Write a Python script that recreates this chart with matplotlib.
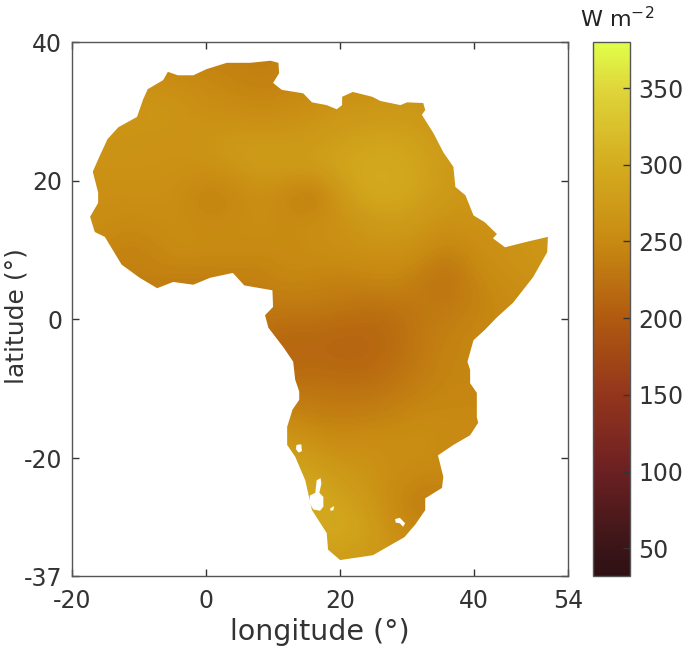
import matplotlib
matplotlib.use('Agg')
import matplotlib.pyplot as plt
from matplotlib.colors import LinearSegmentedColormap
from matplotlib.patches import Polygon
import numpy as np

# coastline
coast_lon = [-5.7, -4.2, -1.9, 0.1, 3.1, 6.6, 9.6, 10.8, 10.9, 10, 11.3, 14.5, 15.8, 18, 19.5, 20.3, 20.3, 21.9,
             24.8, 26, 29, 30, 32.4, 32.7, 32.2, 33.9, 35.4, 36.9, 37.2, 38.7, 39.9, 41.6, 43.4, 42.8, 44.6, 47.9,
             51, 50.9, 48.8, 45.8, 43.4, 41.6, 39.9, 39, 39.4, 39.4, 40.4, 40.4, 40.6, 39.4, 36.9, 34.6, 35.4, 35.2,
             32.7, 32.7, 31.2, 29.6, 26.7, 24.9, 20, 18.2, 18.0, 17.4, 15.8, 14.8, 13.3, 12.1, 12.1, 12.9, 13.9, 13.9,
             13.3, 13.0, 11.6, 9.3, 8.8, 10, 9.9, 5.7, 4, 0.6, -1.9, -4.9, -7.3, -9.9, -12.6, -15.1, -16.6, -17.3,
             -16.1, -16.1, -16.9, -15.9, -14.7, -13.1, -10.3, -9.4, -8.7, -6.4]
coast_lat = [35.7, 35.2, 35.2, 36.1, 37, 37, 37.3, 37, 35.5, 34.1, 33.1, 32.6, 31.3, 30.9, 30.3, 30.9, 32.1, 32.8,
             32.1, 31.5, 30.9, 31.3, 31.2, 30.2, 29.5, 26.9, 24.1, 22, 19.1, 17.9, 15, 14, 12.3, 11.7, 10.4, 11.2,
             11.9, 9.7, 6.1, 2.4, 0.3, -1.5, -3, -6.1, -7.3, -9.2, -10.6, -14.1, -14.9, -16.7, -18.1, -19.6, -22.7, -24.3,
             -25.8, -27.5, -29.6, -31.4, -33.0, -34, -34.7, -33.2, -30.8, -29.9, -27.5, -23.2, -19.8, -18.1, -15.5, -13.0, -11.6, -10.4,
             -8.7, -6.1, -4.1, -1.2, 0.6, 1.8, 4.2, 4.9, 6.7, 6, 5, 5.4, 4.5, 6, 7.9, 11.9, 12.6, 14.8,
             16.8, 18.3, 21.3, 23.5, 26.0, 27.7, 29.2, 31.7, 33.2, 34.5]

# white no-data patches in the south
gap1_lon = [16.5, 17.1, 17.2, 16.9, 17.5, 17.5, 17.0, 16.0, 15.4, 15.5, 16.3]
gap1_lat = [-23.2, -22.9, -23.7, -25.0, -25.6, -27.0, -27.6, -27.4, -26.4, -25.4, -25.0]
gap2_lon = [13.5, 14.2, 14.3, 13.8, 13.4]
gap2_lat = [-18.1, -18.0, -19.0, -19.2, -18.7]
gap3_lon = [28.2, 28.9, 29.7, 29.4, 28.9, 28.3]
gap3_lat = [-28.8, -28.6, -29.4, -29.9, -29.4, -29.3]
gap4_lon = [18.5, 19.1, 19.0, 18.6]
gap4_lat = [-27.3, -26.9, -27.5, -27.6]

# surface values on a coarse grid, W m-2
grid_lon = np.arange(-20, 53, 4)
grid_lat = np.arange(38, -39, -4)
values = [
    [240, 240, 240, 240, 240, 240, 238, 238, 240, 245, 245, 245, 245, 250, 250, 250, 250, 250, 250],
    [255, 255, 255, 260, 256, 250, 245, 240, 243, 250, 255, 258, 258, 258, 260, 260, 260, 260, 260],
    [265, 265, 265, 270, 265, 258, 255, 252, 255, 262, 268, 270, 272, 270, 265, 265, 265, 265, 265],
    [265, 265, 265, 262, 262, 265, 272, 272, 270, 272, 280, 285, 288, 280, 272, 270, 270, 270, 270],
    [262, 262, 262, 262, 262, 262, 268, 278, 278, 282, 290, 296, 296, 288, 275, 270, 270, 270, 270],
    [258, 258, 258, 260, 255, 238, 245, 258, 245, 228, 270, 295, 296, 285, 272, 265, 265, 265, 265],
    [255, 255, 250, 252, 255, 250, 252, 256, 252, 255, 262, 270, 278, 270, 262, 265, 262, 262, 262],
    [250, 250, 240, 245, 255, 252, 252, 250, 250, 255, 258, 262, 262, 258, 240, 255, 262, 268, 270],
    [240, 240, 240, 240, 238, 238, 240, 240, 250, 245, 242, 245, 250, 235, 222, 245, 255, 262, 265],
    [235, 235, 235, 232, 235, 235, 235, 235, 232, 235, 230, 225, 225, 232, 232, 240, 250, 255, 255],
    [228, 228, 228, 228, 228, 228, 228, 222, 215, 215, 212, 212, 218, 232, 240, 248, 250, 250, 250],
    [215, 215, 215, 215, 215, 215, 215, 212, 212, 215, 212, 212, 222, 232, 245, 245, 245, 245, 245],
    [225, 225, 225, 225, 225, 225, 225, 225, 225, 228, 225, 225, 230, 240, 245, 245, 245, 245, 245],
    [248, 248, 248, 248, 248, 248, 248, 248, 248, 240, 238, 240, 245, 250, 250, 250, 250, 250, 250],
    [275, 275, 275, 275, 275, 275, 275, 275, 275, 262, 255, 258, 255, 258, 250, 250, 250, 250, 250],
    [290, 290, 290, 290, 290, 290, 290, 290, 290, 285, 272, 265, 255, 250, 250, 250, 250, 250, 250],
    [295, 295, 295, 295, 295, 295, 295, 295, 295, 298, 285, 272, 250, 235, 238, 238, 238, 238, 238],
    [295, 295, 295, 295, 295, 295, 295, 295, 295, 295, 295, 285, 255, 245, 245, 245, 245, 245, 245],
    [280, 280, 280, 280, 280, 280, 280, 280, 280, 280, 278, 275, 265, 255, 255, 255, 255, 255, 255],
    [280, 280, 280, 280, 280, 280, 280, 280, 280, 280, 278, 275, 265, 255, 255, 255, 255, 255, 255],
]

x_ticks = [-20, 0, 20, 40, 54]
y_ticks = [-37, -20, 0, 20, 40]
cbar_ticks = [50, 100, 150, 200, 250, 300, 350]

# colour map stops
cmap_values = [32, 50, 100, 125, 150, 200, 250, 300, 350, 380]
cmap_colors = ['#2e1015', '#3a1518', '#6b2022', '#802a20', '#93351c', '#b05a10', '#c88a12', '#d4ac1f', '#dfd53a', '#e0ff4a']


def create_chart():
    plt.rcParams['axes.unicode_minus'] = False
    vmin, vmax = cmap_values[0], cmap_values[-1]
    stops = [(v - vmin) / (vmax - vmin) for v in cmap_values]
    cmap = LinearSegmentedColormap.from_list('flux', list(zip(stops, cmap_colors)), N=256)

    fig = plt.figure(figsize=(6.85, 6.47), dpi=100)
    ax = fig.add_axes([72 / 685, 71 / 647, 496 / 685, 534 / 647])
    cax = fig.add_axes([593 / 685, 71 / 647, 37 / 685, 534 / 647])

    extent = [grid_lon[0] - 2, grid_lon[-1] + 2, grid_lat[-1] - 2, grid_lat[0] + 2]
    im = ax.imshow(np.array(values, dtype=float), extent=extent, origin='upper', aspect='auto',
                   cmap=cmap, vmin=vmin, vmax=vmax, interpolation='bicubic')
    outline = Polygon(np.column_stack([coast_lon, coast_lat]), closed=True, transform=ax.transData,
                      facecolor='none', edgecolor='none')
    ax.add_patch(outline)
    im.set_clip_path(outline)

    for gap_lon, gap_lat in [(gap1_lon, gap1_lat), (gap2_lon, gap2_lat), (gap3_lon, gap3_lat), (gap4_lon, gap4_lat)]:
        ax.fill(gap_lon, gap_lat, color='white', linewidth=0)

    ax.set_xlim(-20, 54)
    ax.set_ylim(-37, 40)
    ax.set_xticks(x_ticks)
    ax.set_yticks(y_ticks)
    ax.tick_params(direction='in', top=True, right=True, length=5, width=1, color='#333333',
                   labelsize=17, labelcolor='#333333')
    ax.tick_params(axis='x', pad=9)
    ax.tick_params(axis='y', pad=7)
    ax.set_xlabel('longitude (°)', fontsize=20.5, color='#333333')
    ax.set_ylabel('latitude (°)', fontsize=18, color='#333333')
    ax.xaxis.set_label_coords(0.5, -0.079)
    ax.yaxis.set_label_coords(-0.088, 0.487)
    for spine in ax.spines.values():
        spine.set_color('#555555')
        spine.set_linewidth(1)

    cbar = fig.colorbar(im, cax=cax)
    cbar.set_ticks(cbar_ticks)
    cbar.ax.tick_params(direction='in', length=5, width=1, color='#333333', labelsize=17,
                        labelcolor='#333333', pad=6)
    cbar.outline.set_edgecolor('#555555')
    cbar.outline.set_linewidth(1)
    fig.text(580 / 685, 1 - 27 / 647, 'W m$^{\\mathregular{-2}}$', fontsize=16, color='#222222', ha='left', va='baseline')

    fig.savefig('out.png', dpi=100)
    plt.close(fig)


if __name__ == "__main__":
    create_chart()
